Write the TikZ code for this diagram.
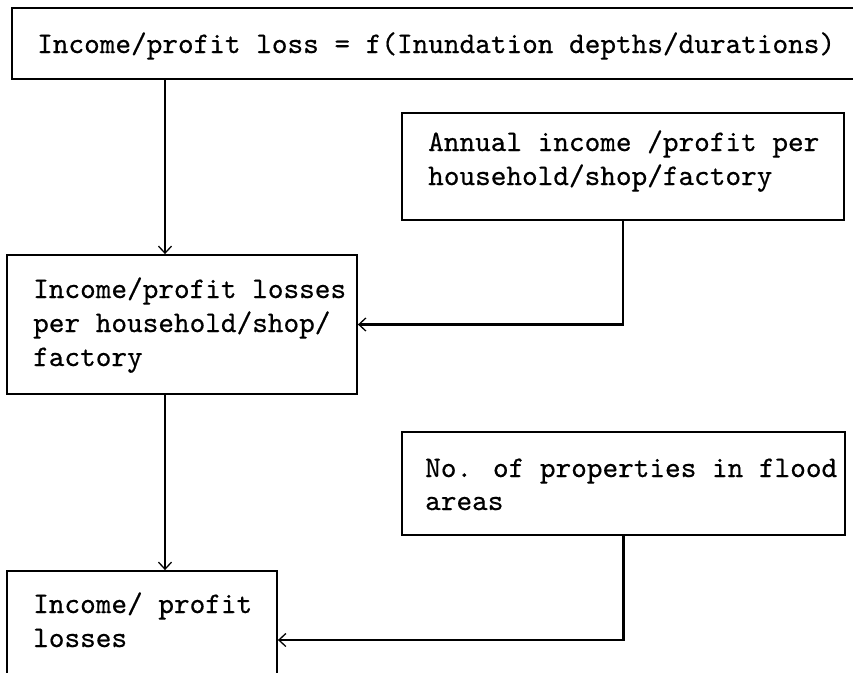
\documentclass[tikz,border=0pt]{standalone}
\usepackage{fontspec}
\newfontfamily\twfont{lmmono10-regular.otf}[FakeBold=0.5]
\usetikzlibrary{arrows.meta}
\begin{document}
\begin{tikzpicture}[x=1pt,y=-1pt,
  boxnode/.style={draw=black, line width=1.8pt, rectangle, inner sep=0pt},
  txt/.style={anchor=base west, inner sep=0pt, font=\twfont\fontsize{29.8}{34}\selectfont},
  conn/.style={draw=black, line width=2.2pt, -{Straight Barb[length=7pt,width=13pt,line width=1.3pt]}}]
\useasboundingbox (0,0) rectangle (853,672);
\clip (0,0) rectangle (853,672);
% boxes
\node[boxnode, minimum width=858pt, minimum height=71pt] (top) at (441,43.5) {};
\node[boxnode, minimum width=442pt, minimum height=107pt] (annual) at (623,166.5) {};
\node[boxnode, minimum width=350pt, minimum height=139pt] (perhh) at (182,324.5) {};
\node[boxnode, minimum width=443pt, minimum height=103pt] (props) at (623.5,483.5) {};
\node[boxnode, minimum width=270pt, minimum height=138pt] (losses) at (142,640) {};
% texts
\node[txt] (t1) at (37,53) {Income/profit loss = f(Inundation depths/durations)};
\node[txt] (t2) at (428,151) {Annual income /profit per};
\node[txt] (t3) at (428,185) {household/shop/factory};
\node[txt] (t4) at (33,298) {Income/profit losses};
\node[txt] (t5) at (33,332) {per household/shop/};
\node[txt] (t6) at (33,366) {factory};
\node[txt] (t7) at (425,477) {No. of properties in flood};
\node[txt] (t8) at (425,510) {areas};
\node[txt] (t9) at (33,613) {Income/ profit};
\node[txt] (t10) at (33,647) {losses};
% connectors
\coordinate (xl) at (165,0);
\draw[conn] (top.south -| xl) -- (perhh.north -| xl);
\draw[conn] (annual.south) |- (perhh.east);
\draw[conn] (perhh.south -| xl) -- (losses.north -| xl);
\draw[conn] (props.south) |- (losses.east);
\end{tikzpicture}
\end{document}
